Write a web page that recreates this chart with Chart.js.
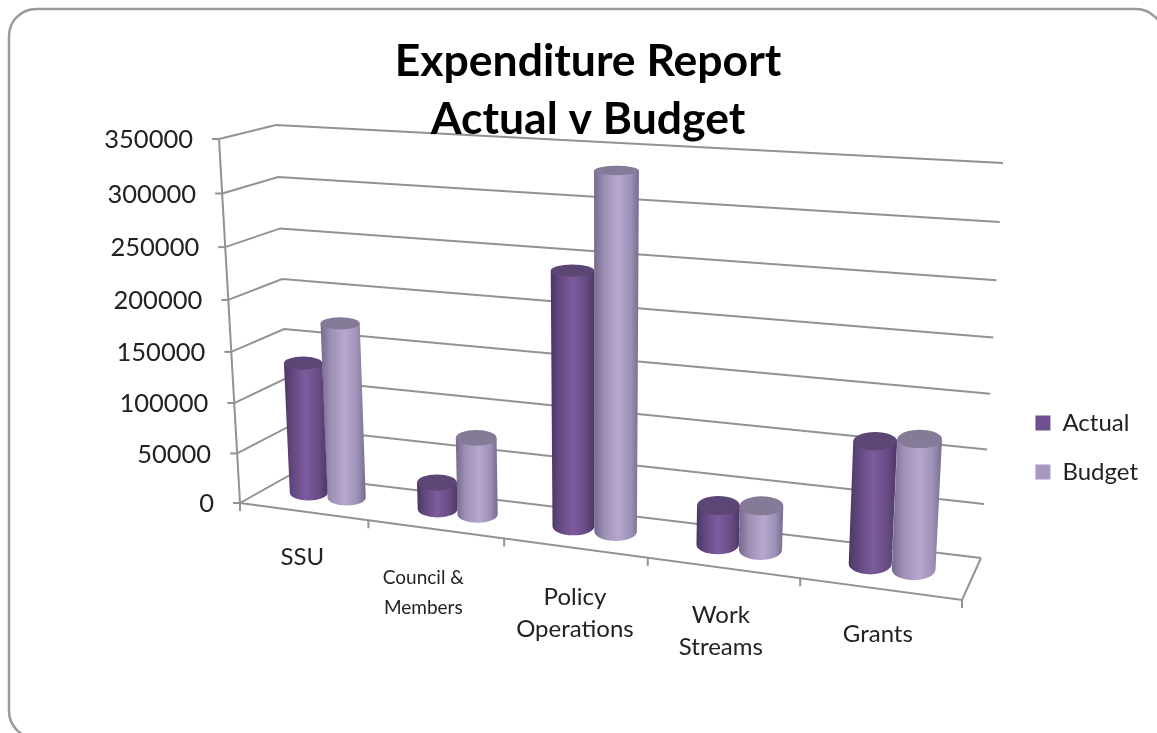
<!DOCTYPE html>
<html><head><meta charset="utf-8">
<style>html,body{margin:0;padding:0;background:#fff}#c{display:block}</style>
<script src="https://cdn.jsdelivr.net/npm/chart.js@4/dist/chart.umd.min.js"></script>
</head><body>
<div style="width:1157px;height:733px"><canvas id="c" width="1157" height="733"></canvas></div>
<script>
const categories = [['SSU'], ['Council &','Members'], ['Policy','Operations'], ['Work','Streams'], ['Grants']];
const actual = [130500, 26500, 241000, 37000, 112000];
const budget = [173000, 75000, 333000, 41500, 118000];
const yMax = 350000, yStep = 50000;

// perspective box corners (front and back planes): [BL, BR, TL, TR]
const FRONT = [[240,503],[962,600],[219,139],[985,182]];
const BACK  = [[290,475],[981,558],[276,125],[1003,163]];
function homography(q){ // unit square -> quad (s right, t up)
  const [p00,p10,p01,p11]=q;
  const dx1=p10[0]-p11[0], dx2=p01[0]-p11[0], sx=p00[0]-p10[0]+p11[0]-p01[0];
  const dy1=p10[1]-p11[1], dy2=p01[1]-p11[1], sy=p00[1]-p10[1]+p11[1]-p01[1];
  const den=dx1*dy2-dx2*dy1;
  const g=(sx*dy2-dx2*sy)/den, h=(dx1*sy-sx*dy1)/den;
  const a=p10[0]-p00[0]+g*p10[0], b=p01[0]-p00[0]+h*p01[0], c=p00[0];
  const d=p10[1]-p00[1]+g*p10[1], e=p01[1]-p00[1]+h*p01[1], f=p00[1];
  return (s,t)=>{const w=g*s+h*t+1;return [(a*s+b*t+c)/w,(d*s+e*t+f)/w];};
}
const HF=homography(FRONT), HB=homography(BACK);
function P(s,t,d){const a=HF(s,t),b=HB(s,t);return [a[0]+(b[0]-a[0])*d,a[1]+(b[1]-a[1])*d];}

const LABEL_NUDGE=[[-1,1],[-12,6],[0,4],[-2,2],[-2,0]];
const GRID='#929292';
const STYLE={
 '#6f5090':{stops:[[0,'#4b3664'],[.2,'#63487f'],[.5,'#7d5c9e'],[.8,'#674c84'],[1,'#4c3866']],cap:'#5c4675'},
 '#a898c0':{stops:[[0,'#75698c'],[.22,'#9d8eb4'],[.55,'#b7a9ce'],[.82,'#9d8fb5'],[1,'#776b8f']],cap:'#857a98'}
};
const DEPTH=0.27, MID_X=0.5, MID_Y=0.56;
let area=null;

// cylinder drawing for bar elements, positions come from the scales
const Bar=Chart.BarElement;
Bar.prototype.draw=function(ctx){
  if(!area) return;
  const st=STYLE[this.options.backgroundColor]; if(!st) return;
  const n=categories.length;
  const raw=(this.x-area.left)/area.width;
  const gc=(Math.floor(raw*n)+.5)/n;                  // centre of the category group
  const f=gc<.5?1:1-(gc-.5)*.2;                       // damp perspective widening
  const sC=gc+(raw-gc)*f, sW=this.width/area.width*f;
  const t=(this.base-this.y)/area.height;
  const sL=sC-sW/2,sR=sC+sW/2;
  const cap=(tt)=>{const l=P(sL,tt,MID_X),r=P(sR,tt,MID_X),fr=P(sC,tt,MID_Y-DEPTH),b=P(sC,tt,MID_Y+DEPTH),m=P(sC,tt,MID_Y);
    return {c:[(l[0]+r[0])/2,m[1]],rx:(r[0]-l[0])/2,ry:Math.abs(fr[1]-b[1])/2};};
  const top=cap(t),bot=cap(0);
  const g=ctx.createLinearGradient(Math.min(top.c[0]-top.rx,bot.c[0]-bot.rx),0,Math.max(top.c[0]+top.rx,bot.c[0]+bot.rx),0);
  st.stops.forEach(s=>g.addColorStop(s[0],s[1]));
  ctx.save();
  ctx.beginPath();
  ctx.moveTo(top.c[0]-top.rx,top.c[1]);
  ctx.lineTo(top.c[0]+top.rx,top.c[1]);
  ctx.lineTo(bot.c[0]+bot.rx,bot.c[1]);
  ctx.ellipse(bot.c[0],bot.c[1],bot.rx,bot.ry,0,0,Math.PI,false);
  ctx.closePath();
  ctx.fillStyle=g;ctx.fill();
  ctx.beginPath();
  ctx.ellipse(top.c[0],top.c[1],top.rx,top.ry,0,0,Math.PI*2);
  ctx.fillStyle=st.cap;ctx.fill();
  ctx.restore();
};

// Value axis: labels follow the slanted front edge of the wall
class SlantY extends Chart.LinearScale{
  static id='slantY'; static defaults=Chart.LinearScale.defaults;
  _computeLabelArea(){return undefined;}
  _computeLabelItems(ca){
    const items=super._computeLabelItems(ca);
    items.forEach((it,i)=>{const v=this.ticks[i].value;const p=P(0,v/yMax,0);
      it.options.translation=[p[0]-26,p[1]+1];it.options.textAlign='right';it.options.textBaseline='middle';it.textOffset=0;});
    return items;
  }
}
// Category axis: labels sit under the slanted front floor edge
class SlantX extends Chart.CategoryScale{
  static id='slantX'; static defaults=Chart.CategoryScale.defaults;
  _computeLabelArea(){return undefined;}
  _computeLabelItems(ca){
    const items=super._computeLabelItems(ca);
    items.forEach((it,i)=>{const p=P((i+.5)/categories.length,0,0);
      it.options.translation=[p[0]+LABEL_NUDGE[i][0],p[1]+33+LABEL_NUDGE[i][1]];it.options.textAlign='center';it.options.textBaseline='top';it.textOffset=0;});
    return items;
  }
}
Chart.register(SlantY,SlantX);

const box3d={id:'box3d',
  beforeDraw(chart){
    const ctx=chart.ctx;area=chart.chartArea;
    ctx.save();
    ctx.fillStyle='#fff';ctx.fillRect(0,0,chart.width,chart.height);
    // rounded frame
    ctx.strokeStyle='#9a9a9a';ctx.lineWidth=2.5;
    ctx.beginPath();
    ctx.moveTo(1163,36);ctx.arcTo(1163,9,1136,9,27);ctx.lineTo(36,9);ctx.arcTo(9,9,9,36,27);ctx.lineTo(9,711);ctx.arcTo(9,738,36,738,27);
    ctx.stroke();
    // walls, floor, ticks
    const y=chart.scales.y;
    ctx.strokeStyle=GRID;ctx.lineWidth=2;
    const line=(pts)=>{ctx.beginPath();pts.forEach((p,i)=>i?ctx.lineTo(p[0],p[1]):ctx.moveTo(p[0],p[1]));ctx.stroke();};
    y.ticks.forEach(k=>{const t=k.value/yMax;
      line([P(0,t,0),P(0,t,1),P(1,t,1)]);
      const a=P(0,t,0);line([[a[0]-7,a[1]],a]);});
    line([P(0,0,0),P(0,1,0)]);
    line([P(0,0,0),P(1,0,0),P(1,0,1),P(1,0,1)]);
    for(let i=0;i<=categories.length;i++){const a=P(i/categories.length,0,0);line([a,[a[0],a[1]+8]]);}
    ctx.restore();
  }
};

new Chart(document.getElementById('c'),{
  type:'bar',
  data:{labels:categories,datasets:[
    {label:'Actual',data:actual,backgroundColor:'#6f5090',borderWidth:0,clip:false},
    {label:'Budget',data:budget,backgroundColor:'#a898c0',borderWidth:0,clip:false}
  ]},
  plugins:[box3d],
  options:{
    responsive:false,animation:false,
    font:{family:'Lato'},
    layout:{padding:{left:28,right:9,top:0,bottom:224}},
    datasets:{bar:{categoryPercentage:.6,barPercentage:1}},
    plugins:{
      title:{display:true,text:['Expenditure Report','Actual v Budget'],color:'#000',
        font:{family:'Lato',size:44.5,weight:'bold',lineHeight:1.32},padding:{top:32,bottom:4}},
      legend:{position:'right',align:'end',labels:{color:'#222',font:{family:'Lato',size:24},boxWidth:15,boxHeight:15,padding:25}},
      tooltip:{enabled:false}
    },
    scales:{
      x:{type:'slantX',grid:{display:false},border:{display:false},
        ticks:{color:'#222',font:c=>({family:'Lato',size:c.index===1?19:24,lineHeight:c.index===1?1.6:1.33}),maxRotation:0,autoSkip:false}},
      y:{type:'slantY',min:0,max:yMax,grid:{display:false},border:{display:false},
        ticks:{stepSize:yStep,color:'#222',font:{family:'Lato',size:25.5},callback:v=>String(v)}}
    }
  }
});
</script>
</body></html>
